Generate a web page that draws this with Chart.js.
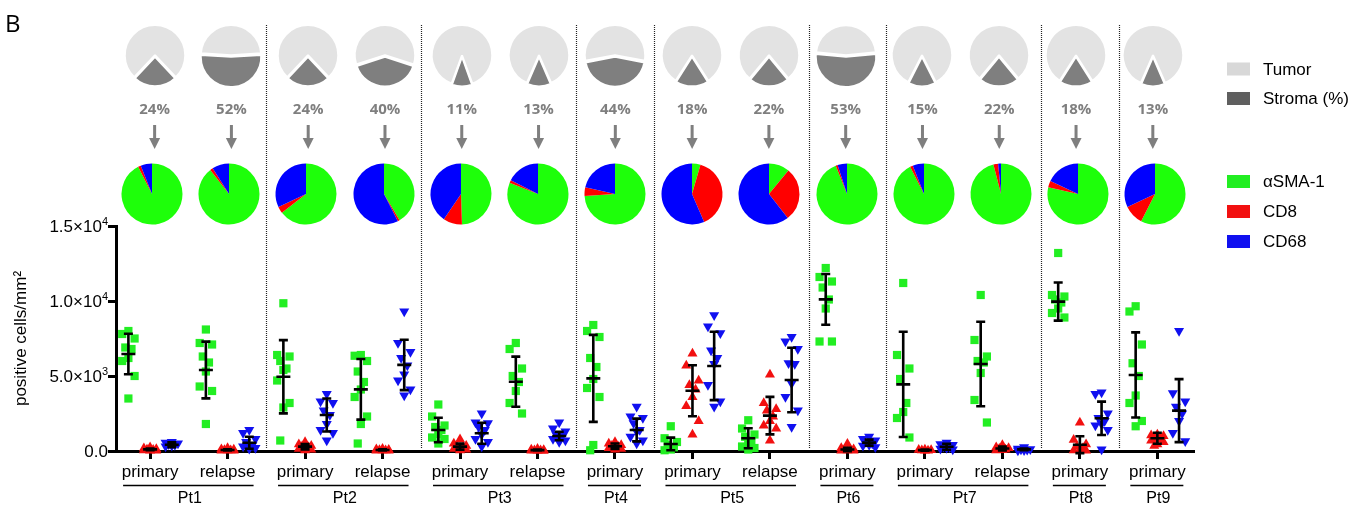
<!DOCTYPE html>
<html>
<head>
<meta charset="utf-8">
<script src="https://cdn.jsdelivr.net/npm/chart.js@4"></script>
<style>
  body { margin: 0; background: #fff; }
  #wrap { position: relative; width: 1357px; height: 508px; }
  #wrap canvas { position: absolute; left: 0; top: 0; }
</style>
</head>
<body>
<div id="wrap"><canvas id="main" width="1357" height="508"></canvas></div>
<script>
// samples (x axis)
const patients = ['Pt1','Pt1','Pt2','Pt2','Pt3','Pt3','Pt4','Pt5','Pt5','Pt6','Pt7','Pt7','Pt8','Pt9'];
const stages = ['primary','relapse','primary','relapse','primary','relapse','primary','primary','relapse','primary','primary','relapse','primary','primary'];

// stroma share (%) for the grey pies
const stromaPct = [24, 52, 24, 40, 11, 13, 44, 18, 22, 53, 15, 22, 18, 13];

// cell composition pies (%)
const pieSma  = [92.5, 89.5, 64.5, 41.5, 49.5, 81, 74, 4.5, 11, 94, 92.5, 96, 78.5, 57.5];
const pieCd8  = [1.5, 1.5, 3.5, 1, 10, 1.5, 4.5, 39, 28.5, 1, 1.5, 2.5, 3.5, 10.5];
const pieCd68 = [6, 9, 32, 57.5, 40.5, 17.5, 21.5, 56.5, 60.5, 5, 6, 1.5, 18, 32];

// positive cells/mm2, one list per sample
const sma = [
  [8000, 7800, 7500, 6900, 6800, 6200, 6000, 5000, 3500],
  [8100, 7200, 7100, 6300, 5900, 5300, 4300, 4000, 1800],
  [9850, 6400, 6300, 6000, 5500, 5400, 4700, 3200, 2900, 700],
  [6400, 6350, 6000, 5300, 4600, 4100, 3600, 2300, 1800, 500],
  [3100, 2300, 1700, 1600, 1400, 1100, 900, 800, 500],
  [7200, 6800, 5500, 5000, 4600, 4000, 3200, 2500],
  [8400, 8000, 7600, 6200, 5600, 4800, 4200, 3600, 400, 50],
  [1650, 850, 600, 400, 250, 100, 50],
  [2050, 1500, 1100, 950, 700, 600, 300, 200, 100],
  [12200, 11600, 11300, 10900, 10100, 9500, 7300, 7300],
  [11200, 6400, 5500, 4800, 3200, 2600, 2200, 900],
  [10400, 7400, 6300, 6000, 5900, 5200, 3400, 1900],
  [13200, 10400, 10300, 10100, 9900, 9500, 9200, 8900],
  [9650, 9300, 7100, 5850, 5000, 3700, 3200, 2000, 1650]
];
const cd8 = [
  [250, 180, 130, 100, 80, 60, 50, 30, 20],
  [200, 120, 90, 70, 50, 40, 30, 20],
  [600, 450, 350, 300, 250, 200, 150, 100, 50],
  [150, 110, 80, 60, 50, 40, 30, 20],
  [780, 500, 350, 300, 250, 200, 150, 100, 50],
  [150, 100, 70, 50, 40, 30, 20, 10],
  [600, 500, 400, 350, 300, 250, 200, 150, 100],
  [6500, 5700, 4700, 4400, 4100, 3600, 3000, 2000, 1100],
  [5100, 3200, 2800, 2700, 2300, 2000, 1700, 1500, 700],
  [480, 200, 120, 80, 60, 40, 30, 20],
  [100, 80, 60, 40, 30, 20],
  [400, 250, 200, 150, 100, 60, 40],
  [1900, 750, 450, 300, 200, 100, 50, 30],
  [1100, 1050, 1000, 900, 850, 800, 700, 600, 450, 350]
];
const cd68 = [
  [600, 550, 500, 450, 400, 350, 300],
  [1400, 1200, 800, 600, 400, 300, 300, 200, 150],
  [3800, 3300, 3200, 2700, 2400, 1800, 1400, 1200, 700],
  [9300, 7200, 6600, 6200, 5700, 5100, 4700, 4100, 3700],
  [2500, 1900, 1850, 1600, 1400, 1100, 800, 600, 300],
  [1900, 1500, 1300, 1100, 1000, 900, 800, 700, 600],
  [2950, 2300, 2200, 1850, 1400, 1300, 950, 700, 500],
  [9050, 8300, 7850, 6700, 6200, 5800, 4400, 3300, 2950],
  [7600, 7300, 6800, 5850, 5800, 4500, 3600, 2700, 1600],
  [950, 800, 700, 600, 500, 400, 350, 250],
  [550, 450, 400, 300, 250, 200, 150, 100],
  [250, 150, 120, 100, 80, 60, 40],
  [3900, 3800, 2500, 2200, 2000, 1800, 1700, 1400, 100],
  [8000, 3850, 3300, 2950, 2500, 2000, 1200, 650]
];

// mean +/- SD as drawn
const smaMean  = [6470, 5400, 4950, 4110, 1400, 4620, 4840, 470, 850, 10110, 4440, 5800, 9960, 5070];
const smaSd    = [1350, 1890, 2440, 2020, 820, 1670, 2900, 420, 670, 1690, 3510, 2820, 1270, 2840];
const cd8Mean  = [110, 70, 290, 70, 290, 60, 320, 4020, 2360, 100, 60, 170, 420, 850];
const cd8Sd    = [60, 40, 180, 40, 200, 30, 180, 1700, 1250, 110, 40, 130, 560, 370];
const cd68Mean = [420, 550, 2400, 5740, 1180, 1000, 1400, 5670, 4730, 560, 280, 110, 2180, 2690];
const cd68Sd   = [160, 400, 1100, 1680, 700, 280, 760, 2280, 2150, 200, 200, 60, 1110, 2100];

const yTicks = [0, 5000, 10000, 15000];
const yTickLabels = [['0.0', ''], ['5.0×10', '3'], ['1.0×10', '4'], ['1.5×10', '4']];
const legendTissue = ['Tumor', 'Stroma (%)'];
const legendCells = ['αSMA-1', 'CD8', 'CD68'];

const green = '#22ee22', red = '#f21010', blue = '#1010f0';
const pieGreen = '#1eff0a', pieRed = '#ff0000', pieBlue = '#0000ff';
const tumorGrey = '#e3e3e3', stromaGrey = '#7f7f7f';

Chart.defaults.font.family = '"Liberation Sans", Arial, sans-serif';
Chart.defaults.color = '#000';

const jit = [0, -1, 1, -0.5, 0.5, 0, -1, 1, 0, -0.5, 0.5];
const pts = (arr, off) => arr.flatMap((vals, i) =>
  vals.map((v, j) => ({x: i + off + jit[j % jit.length] * 0.08, y: v})));

const bars = [
  {mean: smaMean, sd: smaSd, off: -0.28},
  {mean: cd8Mean, sd: cd8Sd, off: 0},
  {mean: cd68Mean, sd: cd68Sd, off: 0.28}
];

const decor = {
  id: 'decor',
  beforeDatasetsDraw(chart) {
    const {ctx, chartArea, scales: {x}} = chart;
    ctx.save();
    ctx.strokeStyle = '#222';
    ctx.lineWidth = 1.2;
    ctx.setLineDash([1, 1]);
    patients.forEach((p, i) => {
      if (i > 0 && p !== patients[i - 1]) {
        const px = Math.round(x.getPixelForValue(i - 0.5)) + 0.5;
        ctx.beginPath();
        ctx.moveTo(px, 25);
        ctx.lineTo(px, chartArea.bottom - 2);
        ctx.stroke();
      }
    });
    ctx.restore();
  },
  afterDatasetsDraw(chart) {
    const {ctx, scales: {x, y}} = chart;
    ctx.save();
    ctx.strokeStyle = '#000';
    ctx.lineWidth = 2.6;
    bars.forEach(b => {
      b.mean.forEach((m, i) => {
        const px = x.getPixelForValue(i + b.off);
        const yt = y.getPixelForValue(m + b.sd[i]);
        const yb = y.getPixelForValue(m - b.sd[i]);
        const ym = y.getPixelForValue(m);
        ctx.beginPath();
        ctx.moveTo(px, yt); ctx.lineTo(px, yb);
        ctx.moveTo(px - 4.5, yt); ctx.lineTo(px + 4.5, yt);
        ctx.moveTo(px - 4.5, yb); ctx.lineTo(px + 4.5, yb);
        ctx.moveTo(px - 7, ym); ctx.lineTo(px + 7, ym);
        ctx.stroke();
      });
    });
    ctx.restore();
  },
  afterDraw(chart) {
    const {ctx, scales: {x, y}} = chart;
    ctx.save();
    ctx.fillStyle = '#000';

    ctx.font = '24px "Open Sans"';
    ctx.textAlign = 'left';
    ctx.textBaseline = 'alphabetic';
    ctx.fillText('B', 5, 32);

    // y tick labels with exponents
    yTicks.forEach((v, k) => {
      const py = y.getPixelForValue(v);
      const [base, sup] = yTickLabels[k];
      ctx.font = '11px "Liberation Sans"';
      const ws = sup ? ctx.measureText(sup).width : 0;
      ctx.textAlign = 'right';
      ctx.textBaseline = 'alphabetic';
      if (sup) ctx.fillText(sup, 108, py - 1);
      ctx.font = '17px "Liberation Sans"';
      ctx.textBaseline = 'middle';
      ctx.fillText(base, 108 - ws, py + 1);
    });

    // sample labels
    ctx.font = '17px "Liberation Sans"';
    ctx.textAlign = 'center';
    ctx.textBaseline = 'alphabetic';
    stages.forEach((s, i) => ctx.fillText(s, x.getPixelForValue(i), 477));

    // patient brackets
    const groups = [];
    patients.forEach((p, i) => {
      if (!groups.length || groups[groups.length - 1].name !== p) groups.push({name: p, first: i, last: i});
      else groups[groups.length - 1].last = i;
    });
    ctx.lineWidth = 1.5;
    ctx.strokeStyle = '#000';
    groups.forEach(g => {
      const a = x.getPixelForValue(g.first), b = x.getPixelForValue(g.last);
      ctx.beginPath();
      ctx.moveTo(a - 27, 485.5); ctx.lineTo(b + 26, 485.5);
      ctx.stroke();
      ctx.font = '16px "Liberation Sans"';
      ctx.fillText(g.name, (a + b) / 2 + 1, 503);
    });

    // stroma percentages and arrows
    ctx.fillStyle = '#7f7f7f';
    ctx.font = 'bold 15px "Open Sans"';
    ctx.textBaseline = 'middle';
    stromaPct.forEach((p, i) => {
      const cx = x.getPixelForValue(6.5 + (i - 6.5) * 0.991);
      ctx.fillText(p + '%', cx, 110);
      ctx.fillRect(cx - 1.5, 125, 3, 14);
      ctx.beginPath();
      ctx.moveTo(cx - 5.5, 138); ctx.lineTo(cx + 5.5, 138); ctx.lineTo(cx, 149);
      ctx.closePath();
      ctx.fill();
    });

    // legends
    ctx.font = '17px "Liberation Sans"';
    ctx.textAlign = 'left';
    ctx.textBaseline = 'middle';
    [['#d8d8d8', '#5f5f5f'].map((c, k) => ({c, t: legendTissue[k], cy: 69 + k * 29.5})),
     [green, red, blue].map((c, k) => ({c, t: legendCells[k], cy: 181.5 + k * 30}))].flat().forEach(it => {
      ctx.fillStyle = it.c;
      ctx.fillRect(1227, it.cy - 6.5, 23, 13);
      ctx.fillStyle = '#000';
      ctx.fillText(it.t, 1263, it.cy + 1);
    });
    ctx.restore();
  }
};

const main = new Chart(document.getElementById('main'), {
  type: 'scatter',
  data: {
    datasets: [
      {label: 'αSMA-1', data: pts(sma, -0.28), pointStyle: 'rect', pointRadius: 5.8, backgroundColor: green, borderWidth: 0, clip: false},
      {label: 'CD8', data: pts(cd8, 0), pointStyle: 'triangle', pointRadius: 5.8, backgroundColor: red, borderWidth: 0, clip: false},
      {label: 'CD68', data: pts(cd68, 0.28), pointStyle: 'triangle', rotation: 180, pointRadius: 5.8, backgroundColor: blue, borderWidth: 0, clip: false}
    ]
  },
  options: {
    responsive: false,
    animation: false,
    events: [],
    layout: {padding: {left: 0, top: 226, right: 164, bottom: 0}},
    plugins: {legend: {display: false}, tooltip: {enabled: false}},
    scales: {
      x: {
        type: 'linear', min: -0.44, max: 13.46,
        afterBuildTicks: s => { s.ticks = patients.map((_, i) => ({value: i})); },
        afterFit: s => { s.height = 57; },
        ticks: {display: false},
        grid: {drawOnChartArea: false, drawTicks: true, tickLength: 8, lineWidth: 3, color: '#000'},
        border: {display: true, width: 3, color: '#000'}
      },
      y: {
        min: 0, max: 15000,
        afterBuildTicks: s => { s.ticks = yTicks.map(v => ({value: v})); },
        afterFit: s => { s.width = 116; },
        ticks: {display: false},
        grid: {drawOnChartArea: false, drawTicks: true, tickLength: 8, lineWidth: 3, color: '#000'},
        border: {display: true, width: 3, color: '#000'},
        title: {display: true, text: 'positive cells/mm²', font: {size: 17}, color: '#000', padding: {top: 11, bottom: 0}}
      }
    }
  },
  plugins: [decor]
});

const wrap = document.getElementById('wrap');
function addPie(cx, cy, size, dataset, opts) {
  const c = document.createElement('canvas');
  c.width = size; c.height = size;
  c.style.left = (cx - size / 2) + 'px';
  c.style.top = (cy - size / 2) + 'px';
  wrap.appendChild(c);
  new Chart(c, {
    type: 'pie',
    data: {datasets: [dataset]},
    options: Object.assign({
      responsive: false, animation: false, events: [],
      plugins: {legend: {display: false}, tooltip: {enabled: false}}
    }, opts)
  });
}

const sx = main.scales.x;
stromaPct.forEach((p, i) => {
  const cx = sx.getPixelForValue(6.5 + (i - 6.5) * 0.991);
  addPie(cx, 56, 80, {
    data: [p, 100 - p],
    backgroundColor: [stromaGrey, tumorGrey],
    borderColor: '#fff', borderWidth: 2,
    offset: [3, 3]
  }, {radius: 29.5, rotation: 180 - p * 1.8});
});
pieSma.forEach((g, i) => {
  const cx = sx.getPixelForValue(6.5 + (i - 6.5) * 0.996);
  addPie(cx, 194, 72, {
    data: [g, pieCd8[i], pieCd68[i]],
    backgroundColor: [pieGreen, pieRed, pieBlue],
    borderWidth: 0
  }, {radius: 30.5});
});
</script>
</body>
</html>
